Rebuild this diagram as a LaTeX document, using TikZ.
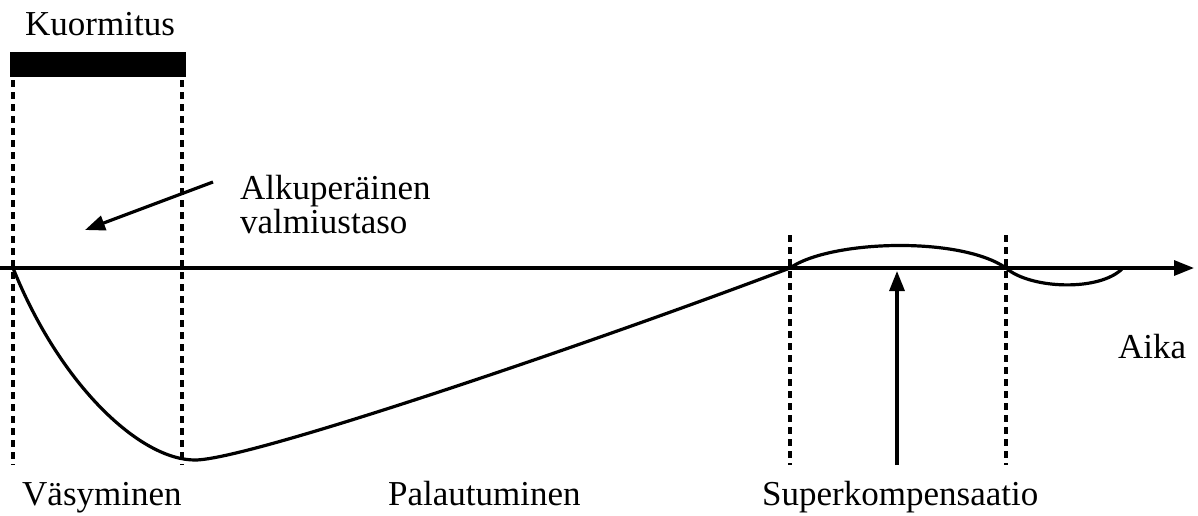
\documentclass[tikz,border=0pt]{standalone}
\usepackage{fontspec}
\setmainfont{Liberation Serif}
\usepackage{tikz}
\usetikzlibrary{arrows.meta}

\begin{document}
\begin{tikzpicture}[
                    x=1pt, y=-1pt,
                    lbl/.style = {
                        anchor=base west, inner sep=0pt, font=\fontsize{35}{40}\selectfont
                    },
                    phase/.style = {
                        line width=3.4pt, dash pattern=on 7pt off 5pt
                    },
                    thickline/.style = {
                        line width=3.2pt
                    },
                    tip/.style = {
                        -{Triangle[length=20pt, width=15pt]}
                    }
                ]
                    \useasboundingbox (0,0) rectangle (1198,515);

                    % Labels
                    \node[lbl] (kuorm) at (25,35) {Kuormitus};
                    \node[lbl] (alku1) at (240,199) {Alkuperäinen};
                    \node[lbl] (alku2) at (240,233) {valmiustaso};
                    \node[lbl] (aika) at (1118,358) {Aika};
                    \node[lbl] (vasy) at (22,505) {Väsyminen};
                    \node[lbl] (pala) at (388,505) {Palautuminen};
                    \node[lbl] (super) at (762,505) {Superkompensaatio};

                    % Load bar
                    \fill[black] (10,52) rectangle (186,77);

                    % Phase boundaries
                    \coordinate (a1) at (13,80);    \coordinate (a2) at (13,465);
                    \coordinate (b1) at (182,80);   \coordinate (b2) at (182,465);
                    \coordinate (c1) at (790,235);  \coordinate (c2) at (790,465);
                    \coordinate (d1) at (1006,235); \coordinate (d2) at (1006,465);
                    \draw[phase] (a1) -- (a2);
                    \draw[phase] (b1) -- (b2);
                    \draw[phase] (c1) -- (c2);
                    \draw[phase] (d1) -- (d2);

                    % Time axis
                    \coordinate (o) at (0,268);
                    \coordinate (t) at (1194,268);
                    \draw[thickline, tip] (o) -- (t);

                    % Readiness curve
                    \draw[thickline] (13,268) .. controls (60,385) and (140,460) .. (195,460)
                        .. controls (250,460) and (600,340) .. (790,268)
                        .. controls (830,240) and (960,236) .. (1006,268)
                        .. controls (1030,289) and (1100,292) .. (1123,268);

                    % Pointers
                    \coordinate (p1) at (213,182);
                    \coordinate (p2) at (85,230);
                    \draw[thickline, tip] (p1) -- (p2);

                    \coordinate (q1) at (897,465);
                    \coordinate (q2) at (897,271);
                    \draw[thickline, tip] (q1) -- (q2);
                \end{tikzpicture}
\end{document}
